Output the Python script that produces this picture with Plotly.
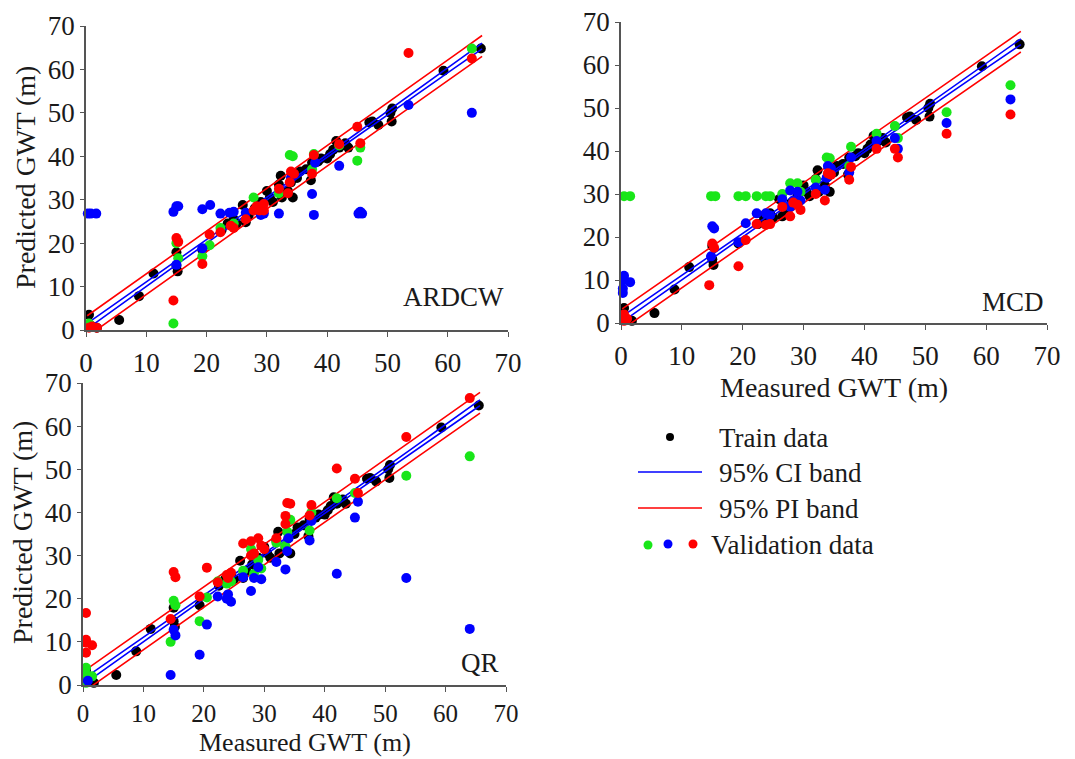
import numpy as np
import plotly.graph_objects as go

# ---------------- data ----------------
train_x = [0.5, 0.8, 1.8, 5.5, 8.8, 11.2, 15.0, 15.0, 15.2, 19.3, 22.5, 23.5, 24.5, 25.0,
           26.0, 26.5, 27.0, 28.0, 29.0, 30.0, 30.5, 31.0, 32.0, 32.3, 32.5, 33.5, 34.0,
           34.3, 35.0, 35.5, 36.5, 37.3, 37.5, 38.5, 39.0, 40.0, 40.5, 41.0, 41.5, 42.0,
           42.5, 43.0, 43.5, 47.0, 47.5, 48.5, 50.5, 50.7, 50.8, 59.3, 65.5]
train_y = [3.5, 1.0, 0.5, 2.3, 7.8, 13.0, 17.9, 14.8, 13.5, 18.5, 23.0, 24.5, 25.5, 24.5,
           28.8, 24.8, 26.5, 28.0, 29.5, 32.0, 30.5, 29.5, 33.5, 35.5, 30.5, 32.0, 34.0,
           30.5, 35.0, 36.5, 37.0, 34.5, 38.5, 38.8, 39.5, 39.5, 40.5, 41.5, 43.5, 42.0,
           42.5, 43.0, 42.0, 47.8, 48.0, 47.2, 50.0, 48.0, 51.0, 59.7, 64.8]

# ARDCW validation
ardcw_green_x = [0.5, 14.5, 15.3, 15.0, 19.3, 20.5, 22.3, 24.5, 27.8, 32.0, 33.8, 34.3,
                 37.5, 37.8, 42.0, 45.0, 45.5, 64.0]
ardcw_green_y = [1.5, 1.5, 16.5, 20.0, 17.0, 19.5, 23.5, 24.5, 30.5, 31.5, 40.3, 40.0,
                 37.0, 40.5, 42.5, 39.0, 42.0, 64.8]
ardcw_blue_x = [0.3, 0.8, 1.7, 14.5, 15.0, 15.3, 19.3, 20.6, 22.3, 23.8, 24.5, 26.5, 29.0,
                29.5, 32.0, 37.5, 37.8, 42.0, 45.2, 45.8, 45.5, 53.5, 64.0, 15.0, 19.3, 34.0, 38.0]
ardcw_blue_y = [26.8, 26.8, 26.8, 27.2, 28.5, 28.5, 27.8, 28.8, 26.8, 27.0, 27.2, 27.0, 26.5,
                26.8, 26.8, 31.3, 26.5, 37.8, 26.8, 26.8, 27.2, 51.8, 50.0, 15.0, 18.8, 35.0, 38.5]
ardcw_red_x = [0.5, 1.0, 1.8, 14.5, 15.0, 15.3, 19.3, 20.5, 22.3, 24.0, 24.5, 26.5, 27.8,
               28.3, 28.8, 29.5, 29.5, 32.0, 33.5, 33.8, 34.0, 34.5, 37.5, 37.8, 42.0, 45.0,
               45.5, 53.5, 64.0]
ardcw_red_y = [0.5, 0.8, 0.5, 6.8, 21.2, 20.3, 15.2, 22.0, 22.5, 24.0, 23.5, 25.5, 27.5,
               28.5, 27.5, 29.0, 27.5, 32.5, 31.5, 34.0, 36.5, 36.0, 36.0, 40.3, 42.8, 46.8,
               43.0, 63.8, 62.5]

# MCD validation
mcd_green_x = [0.5, 1.5, 14.8, 15.5, 19.3, 20.5, 22.3, 23.8, 24.5, 26.5, 27.8, 29.0, 29.5,
               32.0, 33.8, 34.3, 37.5, 37.8, 42.0, 45.0, 45.5, 53.5, 64.0]
mcd_green_y = [29.5, 29.5, 29.5, 29.5, 29.5, 29.5, 29.5, 29.5, 29.5, 30.0, 32.5, 32.5, 30.5,
               33.3, 38.5, 38.3, 36.5, 41.0, 44.0, 45.8, 43.0, 49.0, 55.3]
mcd_blue_x = [0.5, 0.5, 0.3, 0.3, 1.5, 14.8, 15.0, 15.3, 19.3, 20.5, 22.3, 23.8, 24.5, 26.5,
              27.8, 27.8, 28.3, 29.0, 29.5, 32.0, 33.5, 33.8, 34.0, 34.5, 37.5, 37.8, 42.0,
              45.0, 45.5, 53.5, 64.0]
mcd_blue_y = [11.0, 10.0, 8.0, 7.0, 9.5, 15.5, 22.5, 22.0, 18.8, 23.2, 25.5, 25.5, 25.0, 28.8,
              30.8, 27.0, 28.5, 30.5, 28.5, 31.5, 31.0, 33.8, 36.5, 36.0, 35.0, 38.5, 42.3,
              43.0, 40.5, 46.5, 52.0]
mcd_red_x = [0.5, 0.5, 1.0, 14.5, 15.0, 15.3, 19.3, 20.5, 22.3, 23.8, 24.5, 26.5, 27.8, 28.3,
             29.0, 29.5, 32.0, 33.5, 34.0, 34.5, 37.5, 37.8, 42.0, 45.0, 45.5, 53.5, 64.0]
mcd_red_y = [0.5, 2.0, 1.0, 8.8, 18.5, 17.5, 13.2, 19.3, 23.0, 22.8, 23.0, 27.0, 24.8, 28.0,
             27.5, 26.3, 30.0, 28.5, 34.8, 34.5, 33.3, 36.3, 40.5, 40.5, 38.5, 44.0, 48.5]

# QR validation
qr_green_x = [0.5, 0.5, 0.5, 1.5, 14.5, 15.0, 15.3, 19.3, 20.5, 22.3, 23.8, 24.5, 26.5, 27.8,
              28.3, 29.0, 29.5, 32.0, 33.5, 33.8, 34.3, 37.5, 37.8, 42.0, 45.0, 53.5, 64.0]
qr_green_y = [4.0, 2.5, 0.5, 2.0, 10.0, 19.5, 18.5, 14.8, 20.3, 24.0, 23.5, 24.0, 26.5, 31.5,
              25.8, 29.0, 27.0, 33.0, 32.2, 35.5, 38.3, 35.8, 40.0, 43.3, 44.5, 48.5, 53.0]
qr_blue_x = [0.8, 14.5, 15.0, 15.3, 19.3, 20.5, 22.3, 23.8, 24.0, 24.5, 26.5, 27.8, 28.3,
             29.0, 29.5, 32.0, 33.5, 33.8, 34.0, 37.5, 37.8, 42.0, 45.0, 45.5, 53.5, 64.0]
qr_blue_y = [1.0, 2.3, 12.8, 11.5, 7.0, 14.0, 20.5, 20.0, 21.0, 19.3, 25.0, 21.8, 24.8,
             27.3, 24.5, 28.5, 26.8, 31.0, 34.0, 33.5, 38.0, 25.8, 38.8, 42.5, 24.8, 13.0]
qr_red_x = [0.5, 0.5, 0.5, 0.5, 1.5, 14.5, 15.0, 15.3, 19.3, 20.5, 22.3, 23.8, 24.0, 24.5,
            26.5, 27.8, 27.8, 28.3, 29.0, 29.5, 30.0, 32.0, 33.5, 33.5, 33.8, 34.3, 37.5,
            37.8, 42.0, 45.0, 45.5, 53.5, 64.0]
qr_red_y = [16.7, 10.5, 9.8, 7.5, 9.2, 15.3, 26.2, 25.0, 20.5, 27.2, 23.8, 25.5, 24.8, 26.0,
            32.8, 33.3, 30.0, 30.5, 34.0, 32.3, 31.5, 34.0, 37.3, 39.2, 42.2, 42.0, 39.3,
            41.7, 50.2, 47.8, 44.5, 57.5, 66.5]

# regression fit of train data (same for all panels)
fit_slope = 0.985
fit_intercept = 0.7
fit_x_range = [0.2, 65.7]
fit_x_mean = 32.0
ci_se_center = 0.25
ci_spread = 3.3e-4
pi_se = 2.3

panel_names = ["ARDCW", "MCD", "QR"]
tick_vals = [0, 10, 20, 30, 40, 50, 60, 70]

# ---------------- layout constants ----------------
W, H = 1075, 759
FONT = "Liberation Serif, Times New Roman, serif"
GREEN, BLUE, RED = "#19e619", "#0000ff", "#ff0000"
MS = 10

# plot areas in pixels: (left, right, top(70), bottom(0))
panel_px = [(86, 508, 26, 330), (621, 1047, 22, 323), (83, 506, 383, 685)]
x_label_standoff = [3, 3, 0]
x_label_size = [27, 27, 25]

fig = go.Figure()

fx = np.linspace(fit_x_range[0], fit_x_range[1], 60)
fy = fit_slope * fx + fit_intercept
ci_half = np.sqrt(ci_se_center ** 2 + ci_spread * (fx - fit_x_mean) ** 2)
pi_half = np.sqrt(pi_se ** 2 + ci_half ** 2)

val_sets = [
    (ardcw_green_x, ardcw_green_y, ardcw_blue_x, ardcw_blue_y, ardcw_red_x, ardcw_red_y),
    (mcd_green_x, mcd_green_y, mcd_blue_x, mcd_blue_y, mcd_red_x, mcd_red_y),
    (qr_green_x, qr_green_y, qr_blue_x, qr_blue_y, qr_red_x, qr_red_y),
]

for i in range(3):
    xa = "x" if i == 0 else f"x{i+1}"
    ya = "y" if i == 0 else f"y{i+1}"
    fig.add_trace(go.Scatter(x=train_x, y=train_y, mode="markers", xaxis=xa, yaxis=ya,
                             marker=dict(color="black", size=MS), cliponaxis=False,
                             showlegend=False, hoverinfo="skip"))
    for yy, col in [(fy + pi_half, RED), (fy - pi_half, RED),
                    (fy + ci_half, BLUE), (fy - ci_half, BLUE)]:
        fig.add_trace(go.Scatter(x=fx, y=yy, mode="lines", xaxis=xa, yaxis=ya,
                                 line=dict(color=col, width=1.6),
                                 showlegend=False, hoverinfo="skip"))
    gx, gy, bx, by, rx, ry = val_sets[i]
    for vx, vy, col in [(gx, gy, GREEN), (bx, by, BLUE), (rx, ry, RED)]:
        fig.add_trace(go.Scatter(x=vx, y=vy, mode="markers", xaxis=xa, yaxis=ya,
                                 marker=dict(color=col, size=MS), cliponaxis=False,
                                 showlegend=False, hoverinfo="skip"))

axis_common = dict(range=[0, 70], tickvals=tick_vals, showgrid=False, zeroline=False,
                   showline=True, linecolor="#555555", linewidth=1.5, ticks="outside",
                   ticklen=5, tickwidth=1.3, tickcolor="#555555", automargin=False,
                   tickfont=dict(family=FONT, size=27, color="#1a1a1a"))

layout = dict(width=W, height=H, margin=dict(l=0, r=0, t=0, b=0, pad=0, autoexpand=False),
              plot_bgcolor="rgba(0,0,0,0)", paper_bgcolor="white", showlegend=False)
for i, (l, r, t, b) in enumerate(panel_px):
    sx = "" if i == 0 else str(i + 1)
    layout["xaxis" + sx] = dict(axis_common, domain=[l / W, r / W], anchor="y" + sx,
                                ticklabelstandoff=x_label_standoff[i],
                                tickfont=dict(family=FONT, size=x_label_size[i],
                                              color="#1a1a1a"))
    layout["yaxis" + sx] = dict(axis_common, domain=[1 - b / H, 1 - t / H], anchor="x" + sx,
                                ticklen=4)

# overlay pixel axes for legend and text placement
layout["xaxis4"] = dict(domain=[0, 1], range=[0, W], visible=False, anchor="y4",
                        fixedrange=True, automargin=False)
layout["yaxis4"] = dict(domain=[0, 1], range=[H, 0], visible=False, anchor="x4",
                        fixedrange=True, automargin=False)
fig.update_layout(**layout)

# legend symbols (pixel positions)
fig.add_trace(go.Scatter(x=[670], y=[437], mode="markers", xaxis="x4", yaxis="y4",
                         marker=dict(color="black", size=8), showlegend=False, hoverinfo="skip"))
fig.add_trace(go.Scatter(x=[638, 702], y=[472, 472], mode="lines", xaxis="x4", yaxis="y4",
                         line=dict(color=BLUE, width=1.6), showlegend=False, hoverinfo="skip"))
fig.add_trace(go.Scatter(x=[638, 702], y=[508, 508], mode="lines", xaxis="x4", yaxis="y4",
                         line=dict(color=RED, width=1.6), showlegend=False, hoverinfo="skip"))
fig.add_trace(go.Scatter(x=[648, 668, 693], y=[545, 544, 544], mode="markers", xaxis="x4",
                         yaxis="y4", marker=dict(color=[GREEN, BLUE, RED], size=9),
                         showlegend=False, hoverinfo="skip"))

annots = []
def txt(x, y, s, size=27, xanchor="left", angle=0, yanchor="middle"):
    annots.append(dict(x=x, y=y, xref="x4", yref="y4", text=s, showarrow=False,
                       xanchor=xanchor, yanchor=yanchor, textangle=angle,
                       font=dict(family=FONT, size=size, color="#1a1a1a")))

txt(717, 438, "Train data")
txt(717, 473, "95% CI band")
txt(717, 509, "95% PI band")
txt(709, 545, "Validation data")

# panel labels
txt(506, 297, panel_names[0], xanchor="right")
txt(1046, 302, panel_names[1], xanchor="right")
txt(501, 663, panel_names[2], xanchor="right")

# axis titles
txt(25, 178, "Predicted GWT (m)", size=28, xanchor="center", angle=-90)
txt(22, 533, "Predicted GWT (m)", size=28, xanchor="center", angle=-90)
txt(834, 387, "Measured GWT (m)", size=28, xanchor="center")
txt(305, 759, "Measured GWT (m)", size=26, xanchor="center", yanchor="bottom")

fig.update_layout(annotations=annots)
fig.write_html("out.html")
